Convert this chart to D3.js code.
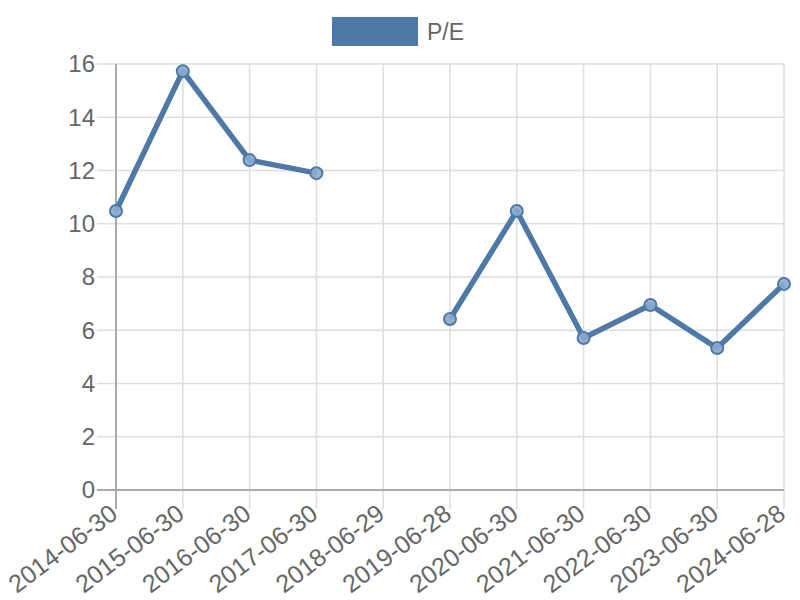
<!DOCTYPE html>
<html>
<head>
<meta charset="utf-8">
<script src="https://cdn.jsdelivr.net/npm/d3@7"></script>
<style>
  body { margin: 0; background: #fff; }
  svg { display: block; font-family: "Liberation Sans", Arial, sans-serif; }
</style>
</head>
<body>
<svg width="800" height="600"></svg>
<script>
// data
const dates = ["2014-06-30", "2015-06-30", "2016-06-30", "2017-06-30", "2018-06-29",
  "2019-06-28", "2020-06-30", "2021-06-30", "2022-06-30", "2023-06-30", "2024-06-28"];
const peValues = [10.48, 15.73, 12.39, 11.9, null, 6.42, 10.48, 5.71, 6.95, 5.33, 7.74];
const yTicks = [0, 2, 4, 6, 8, 10, 12, 14, 16];
const seriesName = "P/E";

const svg = d3.select("svg");
const color = "#4e79a7";
const margin = {top: 64, right: 16, bottom: 110, left: 116};
const width = 800, height = 600;
const tickLen = 19;

const x = d3.scalePoint().domain(dates).range([margin.left, width - margin.right]);
const y = d3.scaleLinear().domain([0, 16]).range([height - margin.bottom, margin.top]);

// grid
const grid = svg.append("g");
grid.selectAll(".hg").data(yTicks).enter().append("line")
  .attr("x1", margin.left - tickLen).attr("x2", width - margin.right)
  .attr("y1", d => y(d)).attr("y2", d => y(d))
  .attr("stroke", "#dedede").attr("stroke-width", 1.5);
grid.selectAll(".vg").data(dates).enter().append("line")
  .attr("x1", d => x(d)).attr("x2", d => x(d))
  .attr("y1", margin.top).attr("y2", height - margin.bottom + tickLen)
  .attr("stroke", "#dedede").attr("stroke-width", 1.5);

// axes lines
svg.append("line")
  .attr("x1", margin.left).attr("x2", margin.left)
  .attr("y1", margin.top).attr("y2", height - margin.bottom + tickLen)
  .attr("stroke", "#aaa").attr("stroke-width", 2);
svg.append("line")
  .attr("x1", margin.left - tickLen).attr("x2", width - margin.right)
  .attr("y1", y(0)).attr("y2", y(0))
  .attr("stroke", "#aaa").attr("stroke-width", 2);

// y labels
svg.append("g").selectAll("text").data(yTicks).enter().append("text")
  .attr("x", margin.left - tickLen - 2).attr("y", d => y(d)).attr("dy", "0.35em")
  .attr("text-anchor", "end").attr("fill", "#666").attr("font-size", 24)
  .text(d => d);

// x labels
svg.append("g").selectAll("text").data(dates).enter().append("text")
  .attr("transform", d => `translate(${x(d) + 3},${y(0) + 27}) rotate(-37)`)
  .attr("text-anchor", "end").attr("fill", "#666").attr("font-size", 25)
  .text(d => d);

// line
const line = d3.line()
  .defined(d => d.v != null)
  .x(d => x(d.date)).y(d => y(d.v));
const pts = dates.map((d, i) => ({date: d, v: peValues[i]}));
svg.append("path").datum(pts)
  .attr("d", line).attr("fill", "none")
  .attr("stroke", color).attr("stroke-width", 5.5).attr("stroke-linejoin", "round");

svg.append("g").selectAll("circle").data(pts.filter(d => d.v != null)).enter().append("circle")
  .attr("cx", d => x(d.date)).attr("cy", d => y(d.v)).attr("r", 6)
  .attr("fill", "rgba(140,170,205,0.9)").attr("stroke", color).attr("stroke-width", 2);

// legend
svg.append("rect").attr("x", 332).attr("y", 17).attr("width", 86).attr("height", 29)
  .attr("fill", color);
svg.append("text").attr("x", 427).attr("y", 32).attr("dy", "0.36em")
  .attr("fill", "#666").attr("font-size", 23).text(seriesName);
</script>
</body>
</html>
